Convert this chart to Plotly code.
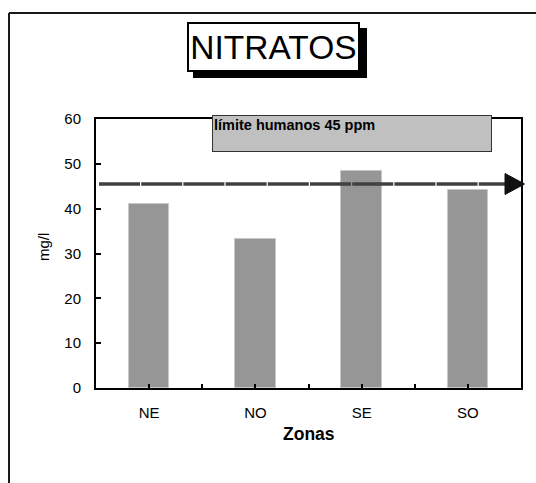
import plotly.graph_objects as go

# ---- data ----
categories = ["NE", "NO", "SE", "SO"]
nitratos = [41.0, 33.3, 48.3, 44.2]
limite_valor = 45.5          # drawn limit line position (mg/l)
limite_texto = "límite humanos 45 ppm"
titulo = "NITRATOS"
y_ticks = [0, 10, 20, 30, 40, 50, 60]
y_max = 60

# ---- layout geometry (pixels) ----
W, H = 536, 483
ML, MR, MT, MB = 96, 15, 119, 95
PW, PH = W - ML - MR, H - MT - MB
FONT = "Arial, Liberation Sans, sans-serif"


def px(x):
    return (x - ML) / PW


def py(y):
    return (H - MB - y) / PH


xidx = list(range(len(categories)))
fig = go.Figure()

fig.add_trace(go.Bar(
    x=xidx, y=nitratos, width=0.38,
    marker=dict(color="#969696", line=dict(color="#c8c8c8", width=1)),
    showlegend=False, hoverinfo="skip",
))

# dashed limit line
cat_px = PW / len(categories)
x_start = -0.5 + 3 / cat_px
x_end = len(categories) - 0.5 - 16 / cat_px
fig.add_trace(go.Scatter(
    x=[x_start, x_end], y=[limite_valor, limite_valor], mode="lines",
    line=dict(color="#404040", width=3.5, dash="41px,1.2px"),
    showlegend=False, hoverinfo="skip",
))

# arrow head position in paper coords (from the limit value)
ya = limite_valor / y_max
half_h = 10.5 / PH
tip_x = 1 + 3.5 / PW
base_x = 1 - 16 / PW
arrow_path = (f"M {base_x},{ya - half_h} L {tip_x},{ya} "
              f"L {base_x},{ya + half_h} Z")

shapes = [
    # outer frame (left + top)
    dict(type="line", xref="paper", yref="paper", x0=px(9), x1=px(9),
         y0=py(13), y1=py(490), line=dict(color="#1a1a1a", width=2)),
    dict(type="line", xref="paper", yref="paper", x0=px(9), x1=px(545),
         y0=py(13), y1=py(13), line=dict(color="#1a1a1a", width=2)),
    # title shadow
    dict(type="rect", xref="paper", yref="paper", x0=px(193), x1=px(367),
         y0=py(28), y1=py(78), fillcolor="black", line=dict(width=0)),
    # arrow head
    dict(type="path", xref="paper", yref="paper", path=arrow_path,
         fillcolor="#111111", line=dict(color="#111111", width=1),
         layer="above"),
]

annotations = [
    dict(text=titulo, xref="paper", yref="paper", x=0, y=1,
         xshift=273.5 - ML, yshift=MT - 47, xanchor="center", yanchor="middle",
         showarrow=False, width=169, height=46, bgcolor="white",
         bordercolor="black", borderwidth=2, borderpad=0,
         font=dict(family=FONT, size=33.5, color="black")),
    dict(text="<b>" + limite_texto + "</b>", xref="paper", yref="paper", x=0, y=1,
         xshift=352 - ML, yshift=MT - 133, xanchor="center", yanchor="middle",
         showarrow=False, width=276, height=33, align="left", valign="top",
         bgcolor="#c0c0c0", bordercolor="#333333", borderwidth=1, borderpad=1,
         font=dict(family=FONT, size=14.5, color="black")),
    dict(text="mg/l", xref="paper", yref="paper", x=0, y=0.5, xshift=43.5 - ML,
         yshift=(H - MB - 247.5) - PH / 2, textangle=-90, showarrow=False,
         xanchor="center", yanchor="middle",
         font=dict(family=FONT, size=15, color="black")),
    dict(text="<b>Zonas</b>", xref="paper", yref="paper", x=0.5, y=0,
         yshift=-(434 - (H - MB)), showarrow=False,
         xanchor="center", yanchor="middle",
         font=dict(family=FONT, size=17.5, color="black")),
]

fig.update_layout(
    width=W, height=H, margin=dict(l=ML, r=MR, t=MT, b=MB, pad=0),
    paper_bgcolor="white", plot_bgcolor="white",
    font=dict(family=FONT, size=15, color="black"),
    shapes=shapes, annotations=annotations, bargap=0,
    xaxis=dict(range=[-0.5, len(categories) - 0.5], tickvals=xidx,
               ticktext=categories, ticks="inside", ticklen=4, tickwidth=1.5,
               tickcolor="black", showline=True, linecolor="black", linewidth=2,
               mirror=True, showgrid=False, zeroline=False,
               ticklabelstandoff=10,
               minor=dict(tickvals=[i + 0.5 for i in xidx[:-1]], ticks="inside",
                          ticklen=4, tickwidth=1.5, tickcolor="black",
                          showgrid=False),
               tickfont=dict(size=15)),
    yaxis=dict(range=[0, y_max], tickvals=y_ticks, ticks="inside", ticklen=5,
               tickwidth=1.5, tickcolor="black", showline=True,
               linecolor="black", linewidth=2, mirror=True, showgrid=False,
               zeroline=False, ticklabelstandoff=10, tickfont=dict(size=15)),
)

fig.write_html("out.html")
